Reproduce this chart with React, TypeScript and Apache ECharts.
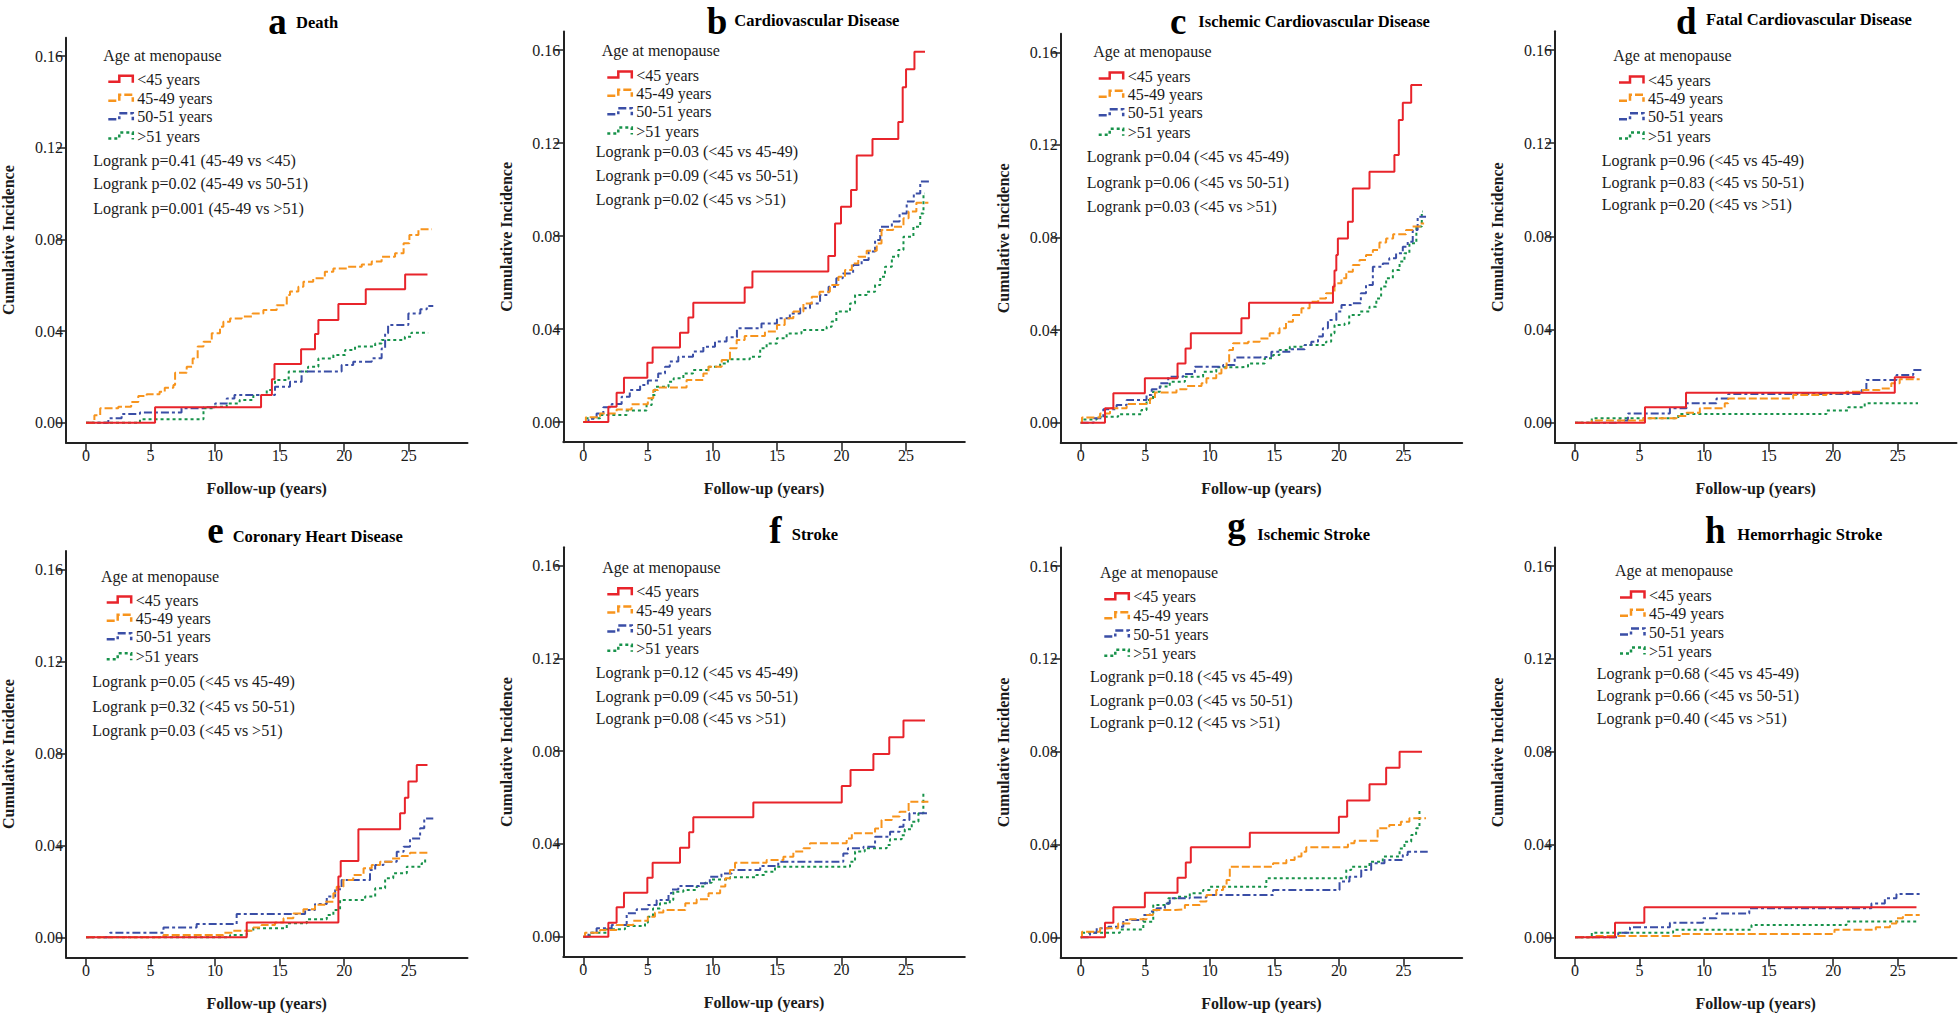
import React, { useEffect, useRef } from 'react';
import * as echarts from 'echarts';

// ---------- text / categories ----------
const GROUPS = ['<45 years', '45-49 years', '50-51 years', '>51 years'];
const LEGEND_TITLE = 'Age at menopause';
const PANEL_LETTERS = ['a', 'b', 'c', 'd', 'e', 'f', 'g', 'h'];
const PANEL_NAMES = [
  'Death', 'Cardiovascular Disease', 'Ischemic Cardiovascular Disease', 'Fatal Cardiovascular Disease',
  'Coronary Heart Disease', 'Stroke', 'Ischemic Stroke', 'Hemorrhagic Stroke',
];
const X_TICKS = [0, 5, 10, 15, 20, 25];
const Y_TICKS = [0, 0.04, 0.08, 0.12, 0.16];
const X_NAME = 'Follow-up (years)';
const Y_NAME = 'Cumulative Incidence';

const LOGRANK = [
  ['Logrank p=0.41 (45-49 vs <45)', 'Logrank p=0.02 (45-49 vs 50-51)', 'Logrank p=0.001 (45-49 vs >51)'],
  ['Logrank p=0.03 (<45 vs 45-49)', 'Logrank p=0.09 (<45 vs 50-51)', 'Logrank p=0.02 (<45 vs >51)'],
  ['Logrank p=0.04 (<45 vs 45-49)', 'Logrank p=0.06 (<45 vs 50-51)', 'Logrank p=0.03 (<45 vs >51)'],
  ['Logrank p=0.96 (<45 vs 45-49)', 'Logrank p=0.83 (<45 vs 50-51)', 'Logrank p=0.20 (<45 vs >51)'],
  ['Logrank p=0.05 (<45 vs 45-49)', 'Logrank p=0.32 (<45 vs 50-51)', 'Logrank p=0.03 (<45 vs >51)'],
  ['Logrank p=0.12 (<45 vs 45-49)', 'Logrank p=0.09 (<45 vs 50-51)', 'Logrank p=0.08 (<45 vs >51)'],
  ['Logrank p=0.18 (<45 vs 45-49)', 'Logrank p=0.03 (<45 vs 50-51)', 'Logrank p=0.12 (<45 vs >51)'],
  ['Logrank p=0.68 (<45 vs 45-49)', 'Logrank p=0.66 (<45 vs 50-51)', 'Logrank p=0.40 (<45 vs >51)'],
];

// ---------- data: [follow-up years, cumulative incidence] at each step ----------
// a Death
const death_lt45 = [[0,0],[5.35,0.0067],[13.56,0.0121],[14.4,0.019],[14.6,0.0256],[16.66,0.032],[17.74,0.0387],[18.0,0.0448],[19.55,0.0518],[21.67,0.0582],[24.72,0.0647],[26.45,0.0647]];
const death_45_49 = [[0,0],[0.65,0.0033],[1.1,0.0063],[2.5,0.007],[3.5,0.009],[4.05,0.0116],[4.7,0.0124],[5.7,0.0135],[6.1,0.0153],[6.77,0.0164],[6.9,0.0218],[7.8,0.0244],[8.26,0.028],[8.65,0.0332],[9.1,0.0353],[9.74,0.039],[10.38,0.0419],[10.64,0.044],[11.16,0.0455],[12.06,0.0463],[12.9,0.0477],[13.74,0.0492],[14.77,0.0513],[15.55,0.0557],[15.8,0.0572],[16.45,0.0593],[16.84,0.0615],[17.6,0.063],[18.5,0.0659],[19.16,0.0673],[20.3,0.068],[21.36,0.069],[22.13,0.0703],[22.9,0.0724],[23.94,0.0739],[24.6,0.0783],[25.05,0.0819],[25.75,0.0844],[26.8,0.0844]];
const death_50_51 = [[0,0],[1.73,0.0019],[2.76,0.0038],[4.18,0.0044],[7.4,0.0063],[9.1,0.0067],[10,0.0084],[10.9,0.0106],[11.5,0.0121],[14.64,0.0157],[15.8,0.0179],[16.7,0.0223],[19.8,0.0252],[20.7,0.0266],[22.13,0.0281],[22.9,0.0324],[23.17,0.039],[23.4,0.0426],[24.97,0.0477],[25.9,0.0495],[26.4,0.0509],[26.9,0.0509]];
const death_gt51 = [[0,0],[4.18,0.0015],[9.1,0.0063],[9.87,0.007],[10.9,0.0084],[11.9,0.0099],[12.96,0.0121],[14,0.0143],[14.64,0.0186],[15.7,0.0223],[17.2,0.0244],[18,0.028],[19.16,0.0295],[20.07,0.0317],[20.84,0.0332],[22.4,0.0346],[22.9,0.0361],[24.7,0.0375],[25.2,0.0393],[26.5,0.0393]];

// b Cardiovascular Disease
const cvd_lt45 = [[0,0],[1.94,0.0066],[2.58,0.0126],[3.15,0.019],[4.96,0.0255],[5.37,0.032],[7.49,0.0384],[8.14,0.0449],[8.52,0.0513],[12.5,0.0579],[13.1,0.0647],[18.98,0.0714],[19.5,0.0854],[19.96,0.0926],[20.74,0.0998],[21.18,0.1146],[22.4,0.1217],[24.4,0.129],[24.74,0.144],[25.0,0.1517],[25.65,0.1593],[26.47,0.1593]];
const cvd_45_49 = [[0,0],[0.2,0.002],[1.3,0.0037],[2.58,0.0054],[3.74,0.0076],[5.0,0.0102],[5.42,0.0138],[5.8,0.0148],[8.0,0.0181],[9.3,0.0209],[9.7,0.0238],[10.72,0.0267],[11.36,0.0317],[11.88,0.0353],[12.5,0.037],[14.07,0.0389],[15.0,0.0417],[15.6,0.0446],[16.27,0.0475],[17.05,0.051],[17.7,0.0539],[18.3,0.056],[19.1,0.0589],[19.76,0.0625],[20.27,0.0654],[20.8,0.0682],[21.3,0.0711],[21.95,0.0737],[22.73,0.0768],[23.1,0.0826],[24.0,0.084],[24.8,0.0876],[25.2,0.0905],[25.8,0.0943],[26.73,0.0943]];
const cvd_50_51 = [[0,0],[0.4,0.0014],[1.03,0.0037],[1.55,0.0063],[2.2,0.0077],[2.97,0.0109],[3.6,0.0138],[4.4,0.0159],[5.0,0.0178],[5.8,0.0209],[6.33,0.0238],[6.7,0.026],[7.36,0.0281],[8.5,0.0303],[9.3,0.0324],[10.2,0.0346],[11.1,0.0364],[11.9,0.0403],[13.8,0.0424],[15.0,0.0446],[16.0,0.0467],[16.8,0.0489],[17.56,0.051],[18.34,0.0546],[19.0,0.0582],[19.6,0.0618],[20.1,0.0639],[20.9,0.0675],[21.56,0.0697],[22.1,0.0733],[22.6,0.0783],[23.0,0.084],[23.9,0.0862],[24.5,0.0897],[25.05,0.0948],[25.6,0.0983],[26.1,0.1034],[27.0,0.1034]];
const cvd_gt51 = [[0,0],[0.26,0.0016],[1.3,0.003],[3.36,0.0049],[4.9,0.0073],[5.3,0.0116],[5.55,0.0152],[6.6,0.0173],[7.0,0.0188],[7.75,0.0209],[8.5,0.0224],[9.7,0.0238],[10.6,0.0252],[11.2,0.027],[12.9,0.0281],[13.7,0.0317],[14.2,0.0338],[15.0,0.036],[15.75,0.0381],[16.9,0.0396],[18.85,0.041],[19.24,0.0432],[19.6,0.0475],[20.66,0.051],[21.05,0.0546],[21.95,0.056],[22.6,0.0589],[23.0,0.0625],[23.37,0.0668],[23.9,0.0711],[24.4,0.074],[24.8,0.0797],[25.57,0.084],[26.1,0.0897],[26.35,0.0983],[26.47,0.0983]];

// c Ischemic Cardiovascular Disease
const icvd_lt45 = [[0,0],[1.88,0.0062],[2.53,0.0127],[4.97,0.0192],[7.5,0.0256],[8.12,0.0321],[8.53,0.0386],[12.45,0.0451],[13.04,0.0518],[19.54,0.0588],[19.66,0.0657],[19.8,0.0724],[19.92,0.0796],[20.7,0.0868],[21.08,0.1012],[22.37,0.1084],[24.3,0.1156],[24.64,0.1308],[24.95,0.1382],[25.6,0.1459],[26.44,0.1459]];
const icvd_45_49 = [[0,0],[0.1,0.0023],[1.5,0.004],[2.27,0.0062],[3.56,0.0081],[5.36,0.0105],[5.75,0.013],[7.42,0.0144],[8.2,0.0158],[9.36,0.017],[9.74,0.0192],[10.5,0.0213],[10.9,0.0235],[11.3,0.0264],[11.5,0.0314],[11.8,0.0343],[12.96,0.035],[13.87,0.0364],[14.64,0.0386],[15.4,0.0408],[15.9,0.0436],[16.44,0.0465],[17.1,0.0494],[17.73,0.0523],[18.4,0.0537],[19.0,0.0559],[19.66,0.0602],[20.2,0.0624],[20.57,0.0652],[21.08,0.0681],[21.6,0.0703],[22.1,0.0724],[22.63,0.0746],[23.14,0.0778],[23.66,0.0796],[24.2,0.0814],[25.2,0.0832],[25.7,0.0847],[26.3,0.086],[26.6,0.086]];
const icvd_50_51 = [[0,0],[1.0,0.0019],[1.75,0.0058],[2.78,0.0076],[3.56,0.0098],[5.1,0.012],[5.5,0.0144],[6.13,0.017],[6.78,0.0199],[7.94,0.021],[8.84,0.0242],[11.03,0.0249],[11.93,0.0282],[13.87,0.0285],[14.77,0.0307],[16.3,0.0317],[17.35,0.0336],[17.86,0.035],[18.38,0.0372],[18.76,0.0408],[19.15,0.0444],[19.8,0.048],[20.2,0.0508],[20.95,0.0516],[21.7,0.0559],[22.1,0.0595],[22.63,0.0674],[23.4,0.0688],[23.9,0.071],[24.43,0.0732],[24.95,0.076],[25.33,0.0782],[25.72,0.0832],[26.1,0.089],[26.75,0.089]];
const icvd_gt51 = [[0,0],[0.1,0.0014],[1.24,0.0026],[2.9,0.0037],[4.7,0.0055],[5.1,0.0098],[5.6,0.0134],[6.13,0.0156],[6.9,0.0177],[8.07,0.0199],[9.48,0.022],[10.5,0.0239],[12.2,0.0242],[12.96,0.0256],[14.25,0.0278],[14.9,0.0292],[15.4,0.0314],[16.2,0.0328],[17.35,0.0336],[19.0,0.035],[19.4,0.0386],[19.66,0.0422],[20.44,0.0429],[20.8,0.0465],[21.6,0.048],[22.37,0.0501],[22.9,0.0537],[23.27,0.0588],[23.66,0.0624],[24.18,0.066],[24.7,0.0696],[25.08,0.0732],[25.46,0.0775],[26.0,0.0847],[26.42,0.0912],[26.5,0.0912]];

// d Fatal Cardiovascular Disease
const fcvd_lt45 = [[0,0],[5.42,0.0066],[8.6,0.0129],[24.77,0.0195],[26.3,0.0195]];
const fcvd_45_49 = [[0,0],[1.3,0.0009],[5.3,0.0019],[7.87,0.0029],[8.64,0.0043],[9.67,0.0062],[11.6,0.0083],[11.87,0.0104],[16.9,0.0119],[19.48,0.0126],[21.0,0.0133],[22.3,0.014],[23.6,0.0147],[24.5,0.0169],[25.15,0.0186],[26.7,0.0186]];
const fcvd_50_51 = [[0,0],[3.2,0.0009],[4.1,0.004],[7.35,0.0062],[8.64,0.0083],[10.96,0.0104],[11.87,0.0123],[22.2,0.014],[22.57,0.0183],[24.9,0.0205],[26.2,0.0226],[26.96,0.0226]];
const fcvd_gt51 = [[0,0],[1.3,0.0019],[8.0,0.0037],[19.48,0.0052],[21.15,0.0066],[22.44,0.0083],[26.57,0.0083]];

// e Coronary Heart Disease
const chd_lt45 = [[0,0],[12.45,0.0064],[19.55,0.0264],[19.73,0.0332],[21.1,0.047],[24.33,0.0539],[24.7,0.0607],[24.97,0.0677],[25.62,0.0749],[26.45,0.0749]];
const chd_45_49 = [[0,0],[6.0,0.001],[10.64,0.002],[11.4,0.0029],[12.96,0.0043],[13.6,0.0054],[14.64,0.0064],[15.3,0.0083],[16.06,0.0104],[16.84,0.0122],[17.74,0.0141],[18.5,0.0155],[19.16,0.0191],[19.42,0.022],[19.94,0.0249],[20.7,0.0271],[21.5,0.03],[22.13,0.0314],[22.78,0.0329],[23.68,0.0343],[24.46,0.0354],[25.1,0.0368],[26.5,0.0368]];
const chd_50_51 = [[0,0],[1.86,0.002],[6.0,0.0043],[8.57,0.0058],[11.67,0.0101],[16.97,0.0119],[17.74,0.0145],[18.65,0.0177],[19.3,0.0209],[19.8,0.0249],[22.0,0.0293],[22.4,0.0314],[23.04,0.0329],[24.07,0.0372],[24.6,0.0394],[25.1,0.043],[25.88,0.0474],[26.2,0.0517],[26.9,0.0517]];
const chd_gt51 = [[0,0],[11.16,0.001],[12.45,0.0029],[12.96,0.0039],[15.55,0.0061],[17.1,0.0078],[18.65,0.0097],[19.16,0.0119],[19.68,0.0162],[21.62,0.0177],[22.4,0.0213],[23.17,0.0257],[23.8,0.0278],[24.85,0.0307],[26.0,0.0322],[26.27,0.0343],[26.4,0.0343]];

// f Stroke
const stroke_lt45 = [[0,0],[1.94,0.006],[2.58,0.0127],[3.15,0.019],[4.96,0.0254],[5.37,0.0319],[7.49,0.0384],[8.2,0.045],[8.52,0.0515],[13.17,0.0579],[20.02,0.065],[20.7,0.0719],[22.47,0.0788],[23.7,0.086],[24.8,0.0932],[26.47,0.0932]];
const stroke_45_49 = [[0,0],[0.13,0.0017],[1.3,0.0029],[2.58,0.005],[3.87,0.0069],[5.0,0.0086],[5.55,0.0104],[6.2,0.0115],[7.9,0.0144],[8.78,0.0161],[9.7,0.0187],[10.6,0.0216],[11.0,0.0252],[11.36,0.0288],[11.75,0.0319],[14.2,0.0331],[15.5,0.0345],[16.27,0.0367],[17.05,0.0381],[17.56,0.0403],[20.4,0.0424],[20.8,0.0446],[22.6,0.0467],[23.1,0.0503],[23.9,0.0518],[24.5,0.0539],[25.2,0.0582],[26.73,0.0582]];
const stroke_50_51 = [[0,0],[0.4,0.0017],[1.03,0.0036],[2.2,0.005],[3.36,0.0101],[4.13,0.0118],[5.0,0.0137],[5.68,0.0158],[6.6,0.0187],[6.84,0.0204],[7.36,0.0219],[9.0,0.023],[9.8,0.0259],[10.7,0.0273],[11.5,0.0288],[13.7,0.0305],[15.1,0.0323],[20.14,0.0359],[20.5,0.0381],[21.7,0.0388],[22.6,0.0431],[23.76,0.0453],[24.5,0.0474],[24.8,0.0503],[25.26,0.0532],[26.73,0.0532]];
const stroke_gt51 = [[0,0],[0.5,0.0017],[1.8,0.0032],[3.23,0.0046],[4.78,0.006],[5.0,0.0086],[5.4,0.0122],[5.94,0.0144],[6.7,0.0158],[6.97,0.0194],[7.75,0.0201],[8.78,0.0216],[9.43,0.0233],[9.94,0.0247],[11.36,0.0256],[13.4,0.0266],[14.07,0.028],[14.85,0.0302],[20.66,0.0323],[21.05,0.0367],[21.8,0.0381],[23.5,0.0395],[23.76,0.042],[24.66,0.0438],[24.9,0.0463],[25.44,0.0496],[25.96,0.0532],[26.34,0.0618],[26.55,0.0618]];

// g Ischemic Stroke
const istroke_lt45 = [[0,0],[1.88,0.0063],[2.53,0.0129],[4.97,0.0192],[7.5,0.0257],[8.14,0.0322],[8.53,0.0388],[13.1,0.0451],[20.0,0.052],[20.64,0.0589],[22.37,0.0659],[23.66,0.0731],[24.7,0.08],[26.44,0.08]];
const istroke_45_49 = [[0,0],[0.1,0.0024],[1.5,0.0039],[2.9,0.006],[3.8,0.0078],[5.1,0.0096],[5.6,0.0118],[7.3,0.0121],[8.07,0.0139],[9.23,0.0154],[9.74,0.0182],[10.5,0.0204],[11.03,0.0218],[11.3,0.0247],[11.55,0.0304],[14.9,0.0319],[15.93,0.0333],[16.57,0.0348],[17.1,0.0369],[17.47,0.0388],[20.7,0.0405],[21.2,0.0416],[23.0,0.047],[23.9,0.0484],[24.8,0.0498],[25.46,0.0513],[26.75,0.0513]];
const istroke_50_51 = [[0,0],[0.72,0.002],[1.24,0.0039],[2.14,0.0046],[3.3,0.0075],[4.85,0.0096],[5.36,0.0111],[5.88,0.0125],[6.52,0.0146],[6.9,0.0168],[8.45,0.0172],[9.74,0.0182],[14.9,0.0204],[20.05,0.024],[20.82,0.0261],[21.73,0.029],[22.5,0.0319],[23.53,0.0333],[24.95,0.0355],[25.33,0.0369],[26.88,0.0369]];
const istroke_gt51 = [[0,0],[0.1,0.002],[3.04,0.0034],[4.85,0.0067],[5.62,0.0139],[6.78,0.0168],[7.42,0.0175],[8.45,0.019],[9.48,0.0204],[10.0,0.0218],[14.38,0.0254],[20.57,0.029],[20.95,0.0304],[22.37,0.0326],[23.4,0.0348],[24.7,0.0383],[25.08,0.0412],[25.6,0.0441],[25.98,0.047],[26.24,0.0549],[26.37,0.0549]];

// h Hemorrhagic Stroke
const hstroke_lt45 = [[0,0],[3.1,0.0063],[5.37,0.0129],[26.45,0.0129]];
const hstroke_45_49 = [[0,0],[1.42,0.0006],[8.13,0.0014],[20.1,0.0032],[23.3,0.0043],[24.4,0.006],[24.9,0.0082],[25.4,0.0096],[26.7,0.0096]];
const hstroke_50_51 = [[0,0],[3.35,0.002],[4.26,0.0043],[7.35,0.0063],[9.93,0.0082],[10.96,0.0103],[13.5,0.0125],[22.96,0.0146],[24.0,0.0168],[24.9,0.0187],[26.8,0.0187]];
const hstroke_gt51 = [[0,0],[1.3,0.002],[7.6,0.0032],[13.67,0.0053],[21.03,0.0068],[26.57,0.0068]];

const PANEL_DATA = [
  [death_lt45, death_45_49, death_50_51, death_gt51],
  [cvd_lt45, cvd_45_49, cvd_50_51, cvd_gt51],
  [icvd_lt45, icvd_45_49, icvd_50_51, icvd_gt51],
  [fcvd_lt45, fcvd_45_49, fcvd_50_51, fcvd_gt51],
  [chd_lt45, chd_45_49, chd_50_51, chd_gt51],
  [stroke_lt45, stroke_45_49, stroke_50_51, stroke_gt51],
  [istroke_lt45, istroke_45_49, istroke_50_51, istroke_gt51],
  [hstroke_lt45, hstroke_45_49, hstroke_50_51, hstroke_gt51],
];

// ---------- styles ----------
const COLORS = ['#e8242b', '#f7941d', '#3a4ea6', '#17924a'];
const DASHES: any[] = ['solid', [8, 3], [8, 3, 3, 3], [3, 3]];
const SERIF = "'Liberation Serif', 'Times New Roman', Times, serif";
const TXT = '#1a1a1a';
const LETTER_SIZE = 37;

// ---------- layout ----------
const X_MIN = -1.55, X_MAX = 29.55, X_PX = 12.91;
const Y_MIN = -0.0087, Y_MAX = 0.168;
const COL_X0 = [86, 583.3, 1080.7, 1575];
// per panel: pixel of y=0 and y=0.16
const PANEL_Y0 = [422.7, 422, 422.7, 422.7, 937.3, 936.7, 937.3, 937.3];
const PANEL_Y16 = [56, 50, 52.3, 50, 569.3, 565.7, 566, 566];
// titles: letter x, name x, letter baseline, name baseline
const TITLE_POS = [
  [268.3, 296, 34, 28.3], [706.7, 734.3, 34, 26], [1170, 1198.3, 34, 26.7], [1676, 1706, 34, 25.5],
  [207.3, 232.7, 543.3, 541.7], [769.3, 791.7, 543.3, 540], [1227.3, 1257.3, 538, 540], [1705, 1737.3, 543.3, 540],
];
// legend: title x, title y, icon x, row y(4), logrank x, logrank y(3)
const LEG_POS: any[] = [
  [103.3, 55, 108.3, [79.3, 98.3, 116.7, 136], 93.3, [160, 183.3, 208.3]],
  [601.7, 50, 607.3, [75, 93.3, 111.7, 131], 595.7, [151.7, 175, 199]],
  [1093.3, 51.7, 1098.7, [76, 94.3, 112.7, 132.3], 1086.7, [156.7, 182.3, 206.7]],
  [1613.3, 55, 1619, [80, 98.3, 116.7, 136], 1601.7, [160, 182.7, 204]],
  [101, 576, 106.7, [600, 618.3, 636.7, 656.7], 92.3, [681.7, 706, 730.7]],
  [602.3, 567.7, 607.3, [591.7, 610, 629, 648.3], 595.7, [672.3, 696.7, 718.3]],
  [1100, 572.7, 1104.3, [596.7, 615.7, 634, 653.3], 1090, [676.7, 700, 722.3]],
  [1615, 570.7, 1620, [595, 613.3, 632, 651], 1596.7, [673.3, 695.7, 718.3]],
];

function buildOption() {
  const grids: any[] = [], xAxes: any[] = [], yAxes: any[] = [], series: any[] = [], graphics: any[] = [];
  for (let p = 0; p < 8; p++) {
    const x0 = COL_X0[p % 4];
    const left = x0 + X_MIN * X_PX;
    const width = (X_MAX - X_MIN) * X_PX;
    const k = (PANEL_Y0[p] - PANEL_Y16[p]) / 0.16;
    const top = PANEL_Y0[p] - Y_MAX * k;
    const bottom = PANEL_Y0[p] - Y_MIN * k;
    grids.push({ left, top, width, height: bottom - top, containLabel: false });
    xAxes.push({
      type: 'value', gridIndex: p, min: X_MIN, max: X_MAX,
      name: X_NAME, nameLocation: 'middle', nameGap: 38,
      nameTextStyle: { fontFamily: SERIF, fontWeight: 'bold', fontSize: 16, color: TXT },
      axisLine: { show: true, onZero: false, lineStyle: { color: '#222', width: 2 } },
      axisTick: { show: true, length: 9, customValues: X_TICKS, lineStyle: { color: '#222', width: 1.5 } },
      axisLabel: { show: true, customValues: X_TICKS, margin: 5, fontFamily: SERIF, fontSize: 16, color: TXT, formatter: (v: number) => String(v) },
      splitLine: { show: false },
    });
    yAxes.push({
      type: 'value', gridIndex: p, min: Y_MIN, max: Y_MAX,
      axisLine: { show: true, onZero: false, lineStyle: { color: '#222', width: 2 } },
      axisTick: { show: true, length: 9, customValues: Y_TICKS, lineStyle: { color: '#222', width: 1.5 } },
      axisLabel: { show: true, customValues: Y_TICKS, margin: 3, fontFamily: SERIF, fontSize: 16, color: TXT, formatter: (v: number) => v.toFixed(2) },
      splitLine: { show: false },
    });
    PANEL_DATA[p].forEach((d, g) => {
      series.push({
        type: 'line', name: GROUPS[g], xAxisIndex: p, yAxisIndex: p, data: d, step: 'end',
        showSymbol: false, symbol: 'none', silent: true, z: 10 - g,
        lineStyle: { color: COLORS[g], width: 2, type: DASHES[g] },
      });
    });
    // y axis name
    graphics.push({
      type: 'text', x: left - 57, y: (top + bottom) / 2, rotation: Math.PI / 2,
      style: { text: Y_NAME, fontFamily: SERIF, fontWeight: 'bold', fontSize: 16, fill: TXT, align: 'center', verticalAlign: 'middle' },
    });
    // title
    const [lx, nx, lb, nb] = TITLE_POS[p];
    graphics.push({
      type: 'text', x: lx, y: lb - 0.3375 * LETTER_SIZE,
      style: { text: PANEL_LETTERS[p], fontFamily: SERIF, fontWeight: 'bold', fontSize: LETTER_SIZE, fill: '#000', align: 'left', verticalAlign: 'middle' },
    });
    graphics.push({
      type: 'text', x: nx, y: nb - 5.6,
      style: { text: PANEL_NAMES[p], fontFamily: SERIF, fontWeight: 'bold', fontSize: 16.5, fill: '#000', align: 'left', verticalAlign: 'middle' },
    });
    // legend
    const [tx, ty, ix, rows, px, prow] = LEG_POS[p];
    graphics.push({
      type: 'text', x: tx, y: ty,
      style: { text: LEGEND_TITLE, fontFamily: SERIF, fontSize: 16, fill: TXT, align: 'left', verticalAlign: 'middle' },
    });
    GROUPS.forEach((gname, g) => {
      const yc = rows[g];
      graphics.push({
        type: 'polyline',
        shape: { points: [[ix, yc + 2.5], [ix + 11, yc + 2.5], [ix + 11, yc - 3.5], [ix + 24.5, yc - 3.5], [ix + 24.5, yc + 3.5]] },
        style: { stroke: COLORS[g], lineWidth: 2.5, fill: null, lineDash: g === 0 ? null : DASHES[g] },
      });
      graphics.push({
        type: 'text', x: ix + 29, y: yc,
        style: { text: gname, fontFamily: SERIF, fontSize: 16, fill: TXT, align: 'left', verticalAlign: 'middle' },
      });
    });
    LOGRANK[p].forEach((s, i) => {
      graphics.push({
        type: 'text', x: px, y: prow[i],
        style: { text: s, fontFamily: SERIF, fontSize: 16, fill: TXT, align: 'left', verticalAlign: 'middle' },
      });
    });
  }
  return {
    animation: false,
    backgroundColor: '#fff',
    grid: grids, xAxis: xAxes, yAxis: yAxes, series, graphic: graphics,
  };
}

export default function App() {
  const ref = useRef<HTMLDivElement>(null);
  useEffect(() => {
    if (!ref.current) return;
    const chart = echarts.init(ref.current, null, { renderer: 'svg' });
    chart.setOption(buildOption() as any);
    return () => chart.dispose();
  }, []);
  return <div ref={ref} style={{ position: 'absolute', left: 0, top: 0, width: 1960, height: 1015, background: '#fff' }} />;
}
